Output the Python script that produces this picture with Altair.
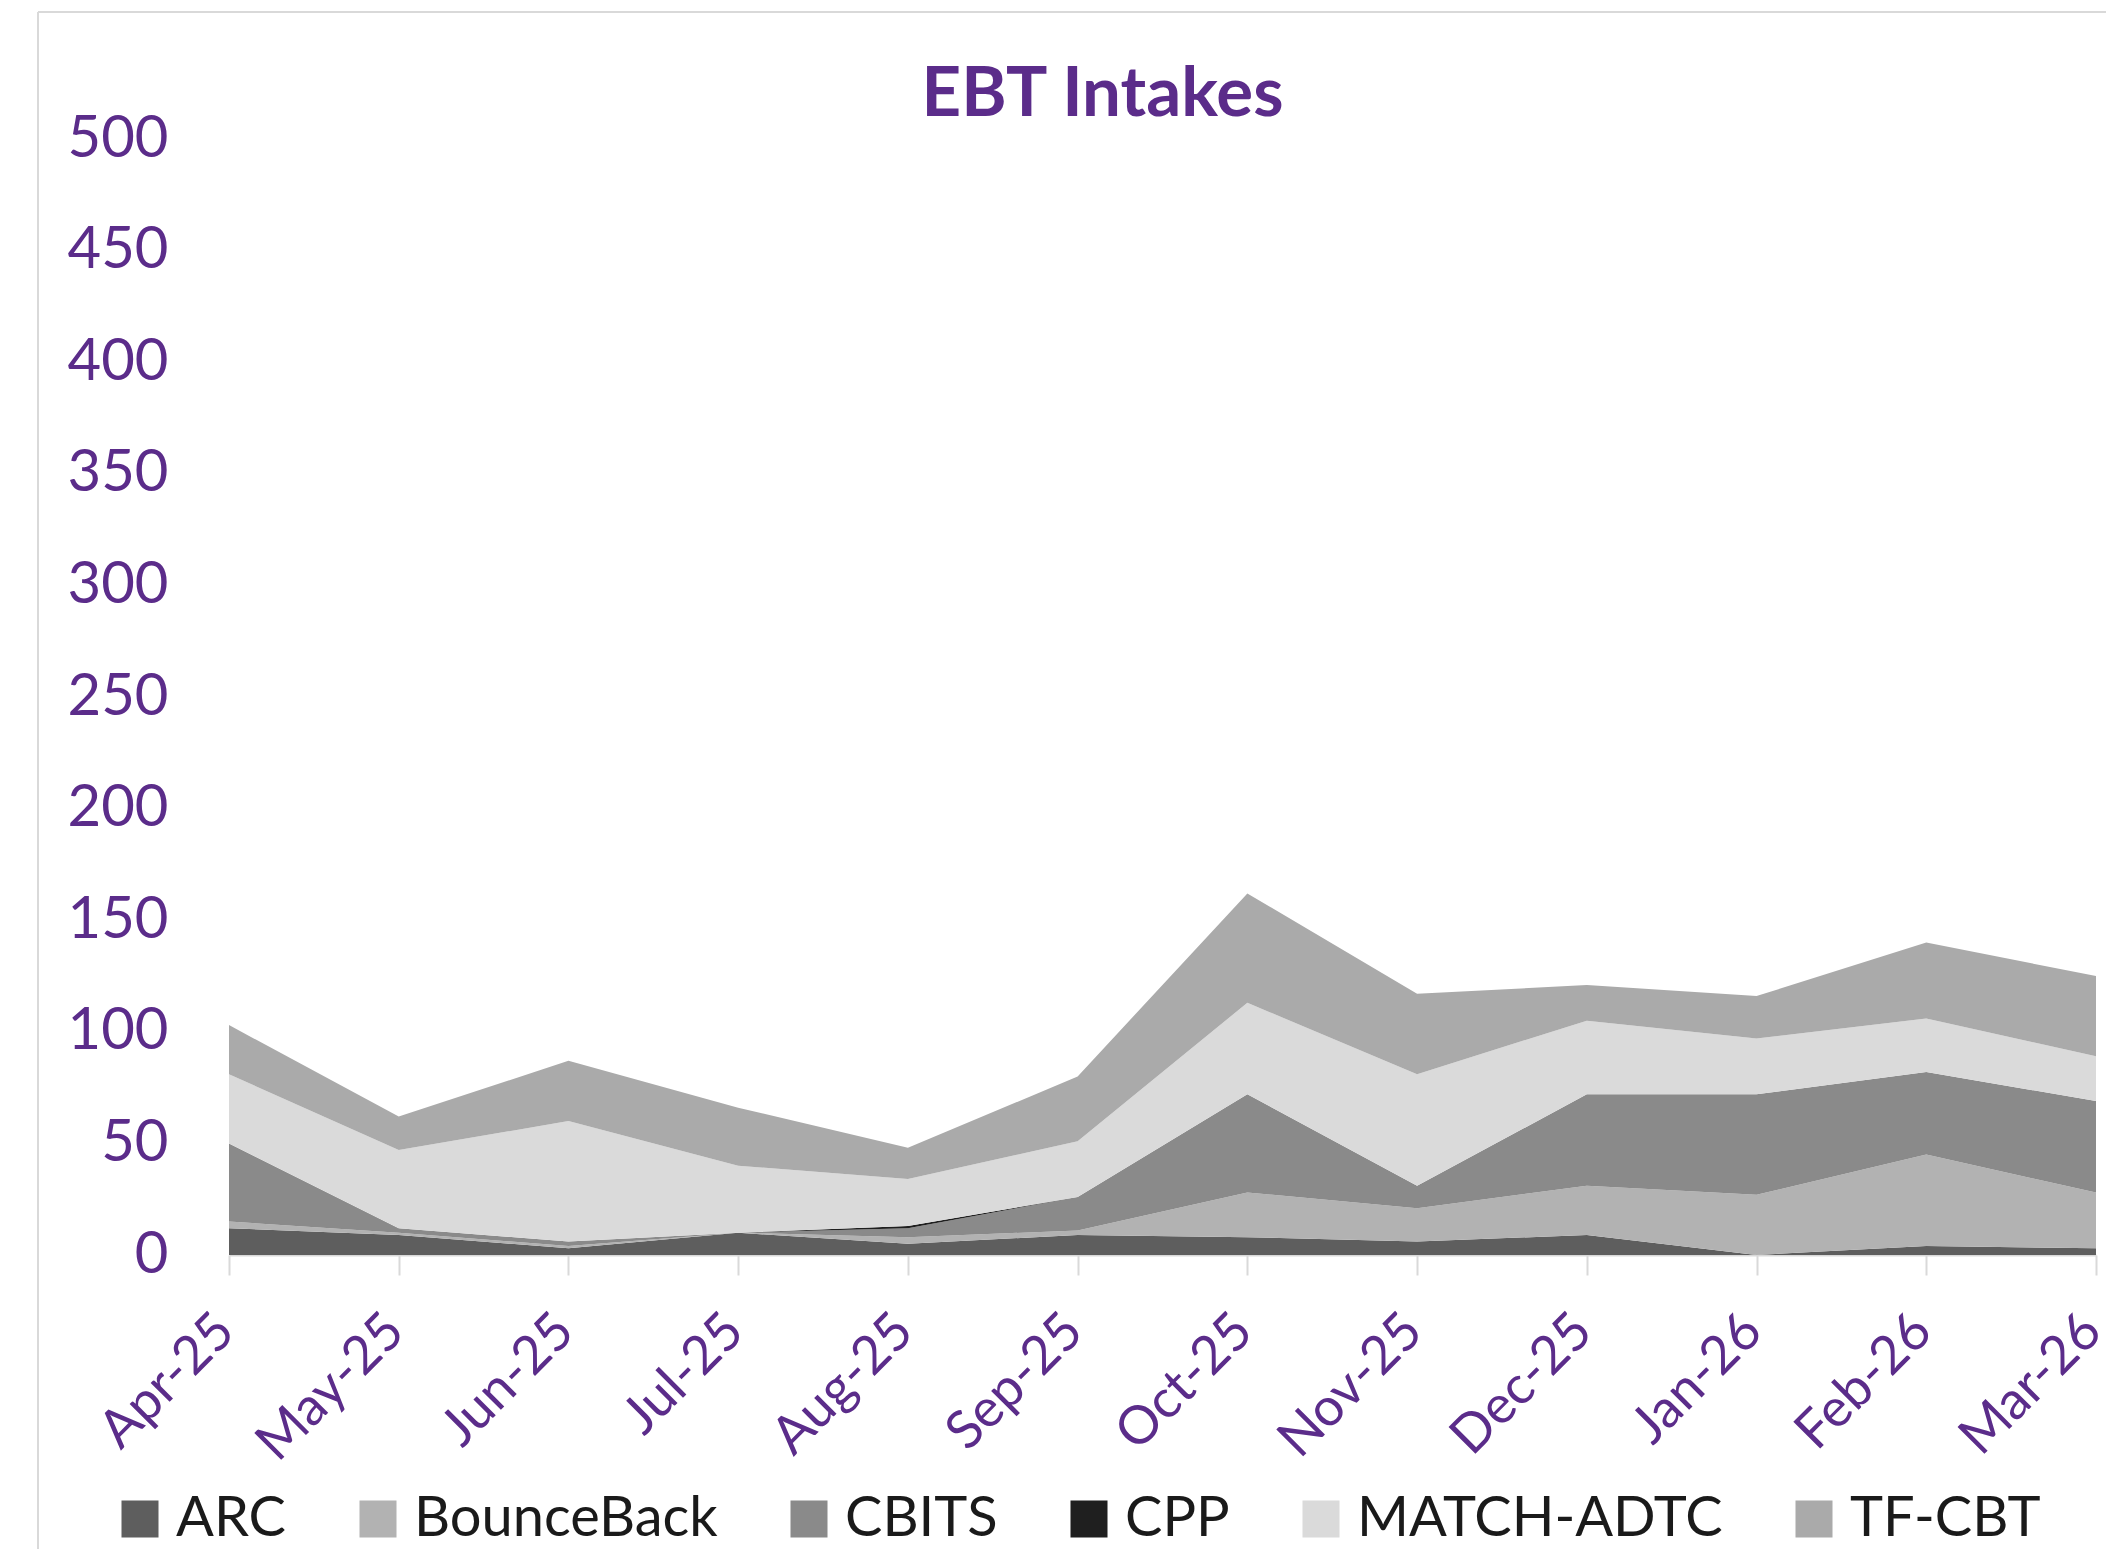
import altair as alt
import pandas as pd

months = ["Apr-25", "May-25", "Jun-25", "Jul-25", "Aug-25", "Sep-25",
          "Oct-25", "Nov-25", "Dec-25", "Jan-26", "Feb-26", "Mar-26"]
programs = ["ARC", "BounceBack", "CBITS", "CPP", "MATCH-ADTC", "TF-CBT"]
colors = ["#5e5e5e", "#b2b2b2", "#8a8a8a", "#1f1f1f", "#dadada", "#aaaaaa"]

arc = [12, 9, 3, 10, 5, 9, 8, 6, 9, 0, 4, 3]
bounceback = [3, 1, 1, 0, 3, 2, 20, 15, 22, 27, 41, 25]
cbits = [35, 2, 2, 0, 4, 15, 44, 10, 41, 45, 37, 41]
cpp = [0, 0, 0, 0, 1, 0, 0, 0, 0, 0, 0, 0]
match_adtc = [31, 35, 54, 30, 21, 25, 41, 50, 33, 25, 24, 20]
tf_cbt = [22, 15, 27, 26, 14, 29, 49, 36, 16, 19, 34, 36]

series = [arc, bounceback, cbits, cpp, match_adtc, tf_cbt]
rows = []
for k, (prog, vals) in enumerate(zip(programs, series)):
    for m, v in zip(months, vals):
        rows.append({"month": m, "program": prog, "value": v, "ord": k})
df = pd.DataFrame(rows)

PURPLE = "#5b2c8a"
FONT = "Lato"
FRAME = "#d9d9d9"

area = alt.Chart(df).mark_area(opacity=1).encode(
    x=alt.X("month:N", sort=months,
            scale=alt.Scale(type="point", padding=0),
            axis=alt.Axis(title=None, labelAngle=-45, labelFont=FONT,
                          labelFontSize=53, labelColor=PURPLE,
                          labelPadding=29, labelOffset=-22, labelLimit=1000,
                          tickSize=20, tickColor=FRAME, tickWidth=2,
                          domainColor=FRAME, domainWidth=2, grid=False)),
    y=alt.Y("value:Q", stack="zero",
            scale=alt.Scale(domain=[0, 500], nice=False),
            axis=alt.Axis(title=None, values=list(range(0, 501, 50)),
                          labelFont=FONT, labelFontSize=58,
                          labelColor=PURPLE, labelPadding=61, ticks=False,
                          domain=False, grid=False)),
    color=alt.Color("program:N",
                    scale=alt.Scale(domain=programs, range=colors),
                    legend=alt.Legend(title=None, orient="none",
                                      direction="horizontal",
                                      legendX=-117, legendY=1352,
                                      symbolType="square", symbolSize=1369,
                                      symbolStrokeWidth=0,
                                      labelFont=FONT, labelFontSize=56,
                                      labelColor="#1a1a1a", labelOffset=8,
                                      labelLimit=1000, columnPadding=63,
                                      padding=0)),
    order=alt.Order("ord:Q", sort="ascending"),
)

frame_df = pd.DataFrame({"k": [0]})
left_edge = alt.Chart(frame_df).mark_rule(color=FRAME, strokeWidth=2).encode(
    x=alt.value(-191), y=alt.value(-127), y2=alt.value(1420))
top_edge = alt.Chart(frame_df).mark_rule(color=FRAME, strokeWidth=2).encode(
    x=alt.value(-191), x2=alt.value(1900), y=alt.value(-127))

chart = alt.layer(left_edge, top_edge, area).properties(
    width=1867,
    height=1116,
    title=alt.TitleParams("EBT Intakes", font=FONT, fontSize=69,
                          fontWeight="bold", color=PURPLE, anchor="middle",
                          dx=-60, offset=-174, baseline="alphabetic"),
    autosize=alt.AutoSizeParams(type="none"),
    padding={"left": 221, "top": 131, "right": 10, "bottom": 294},
).configure_view(stroke=None)

chart.save("out.html", embed_options={"renderer": "svg", "actions": False})
